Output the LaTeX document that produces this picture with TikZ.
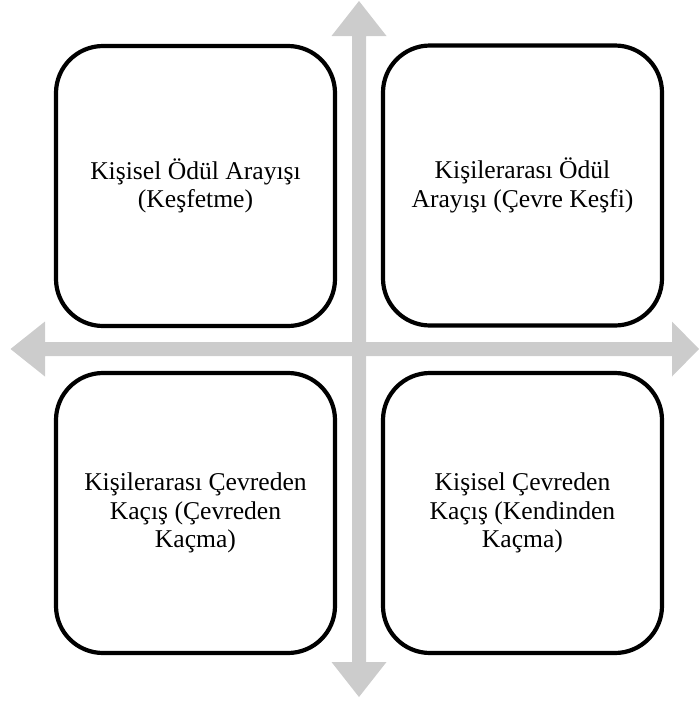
\documentclass[tikz,border=0pt]{standalone}
\usepackage{fontspec}
\setmainfont{Liberation Serif}
\begin{document}
\begin{tikzpicture}[x=1pt,y=-1pt,
  quad/.style={draw=black, line width=4.2pt, fill=white, rounded corners=47pt,
    minimum width=279pt, minimum height=280pt, align=center, inner sep=0pt,
    font=\fontsize{25.6}{28.5}\selectfont},
  axis/.style={fill=black!20, draw=none}]
\useasboundingbox (0,0) rectangle (699,702);
% vertical double arrow
\coordinate (vt) at (359,1);
\coordinate (vb) at (359,697);
\fill[axis] (vt) -- (386.5,36) -- (366,36) -- (366,662) -- (386.5,662) -- (vb)
  -- (331.5,662) -- (352,662) -- (352,36) -- (331.5,36) -- cycle;
% horizontal double arrow
\coordinate (hl) at (10.5,349);
\coordinate (hr) at (699,349);
\fill[axis] (hl) -- (45,321.5) -- (45,342) -- (672,342) -- (672,321.5) -- (hr)
  -- (672,376.5) -- (672,356) -- (45,356) -- (45,376.5) -- cycle;
% quadrants
\node[quad] (tl) at (195.5,186) {Kişisel Ödül Arayışı\\(Keşfetme)};
\node[quad] (tr) at (522.5,185.5) {Kişilerarası Ödül\\Arayışı (Çevre Keşfi)};
\node[quad] (bl) at (195.5,513) {Kişilerarası Çevreden\\Kaçış (Çevreden\\Kaçma)};
\node[quad] (br) at (522.5,513) {Kişisel Çevreden\\Kaçış (Kendinden\\Kaçma)};
\end{tikzpicture}
\end{document}
